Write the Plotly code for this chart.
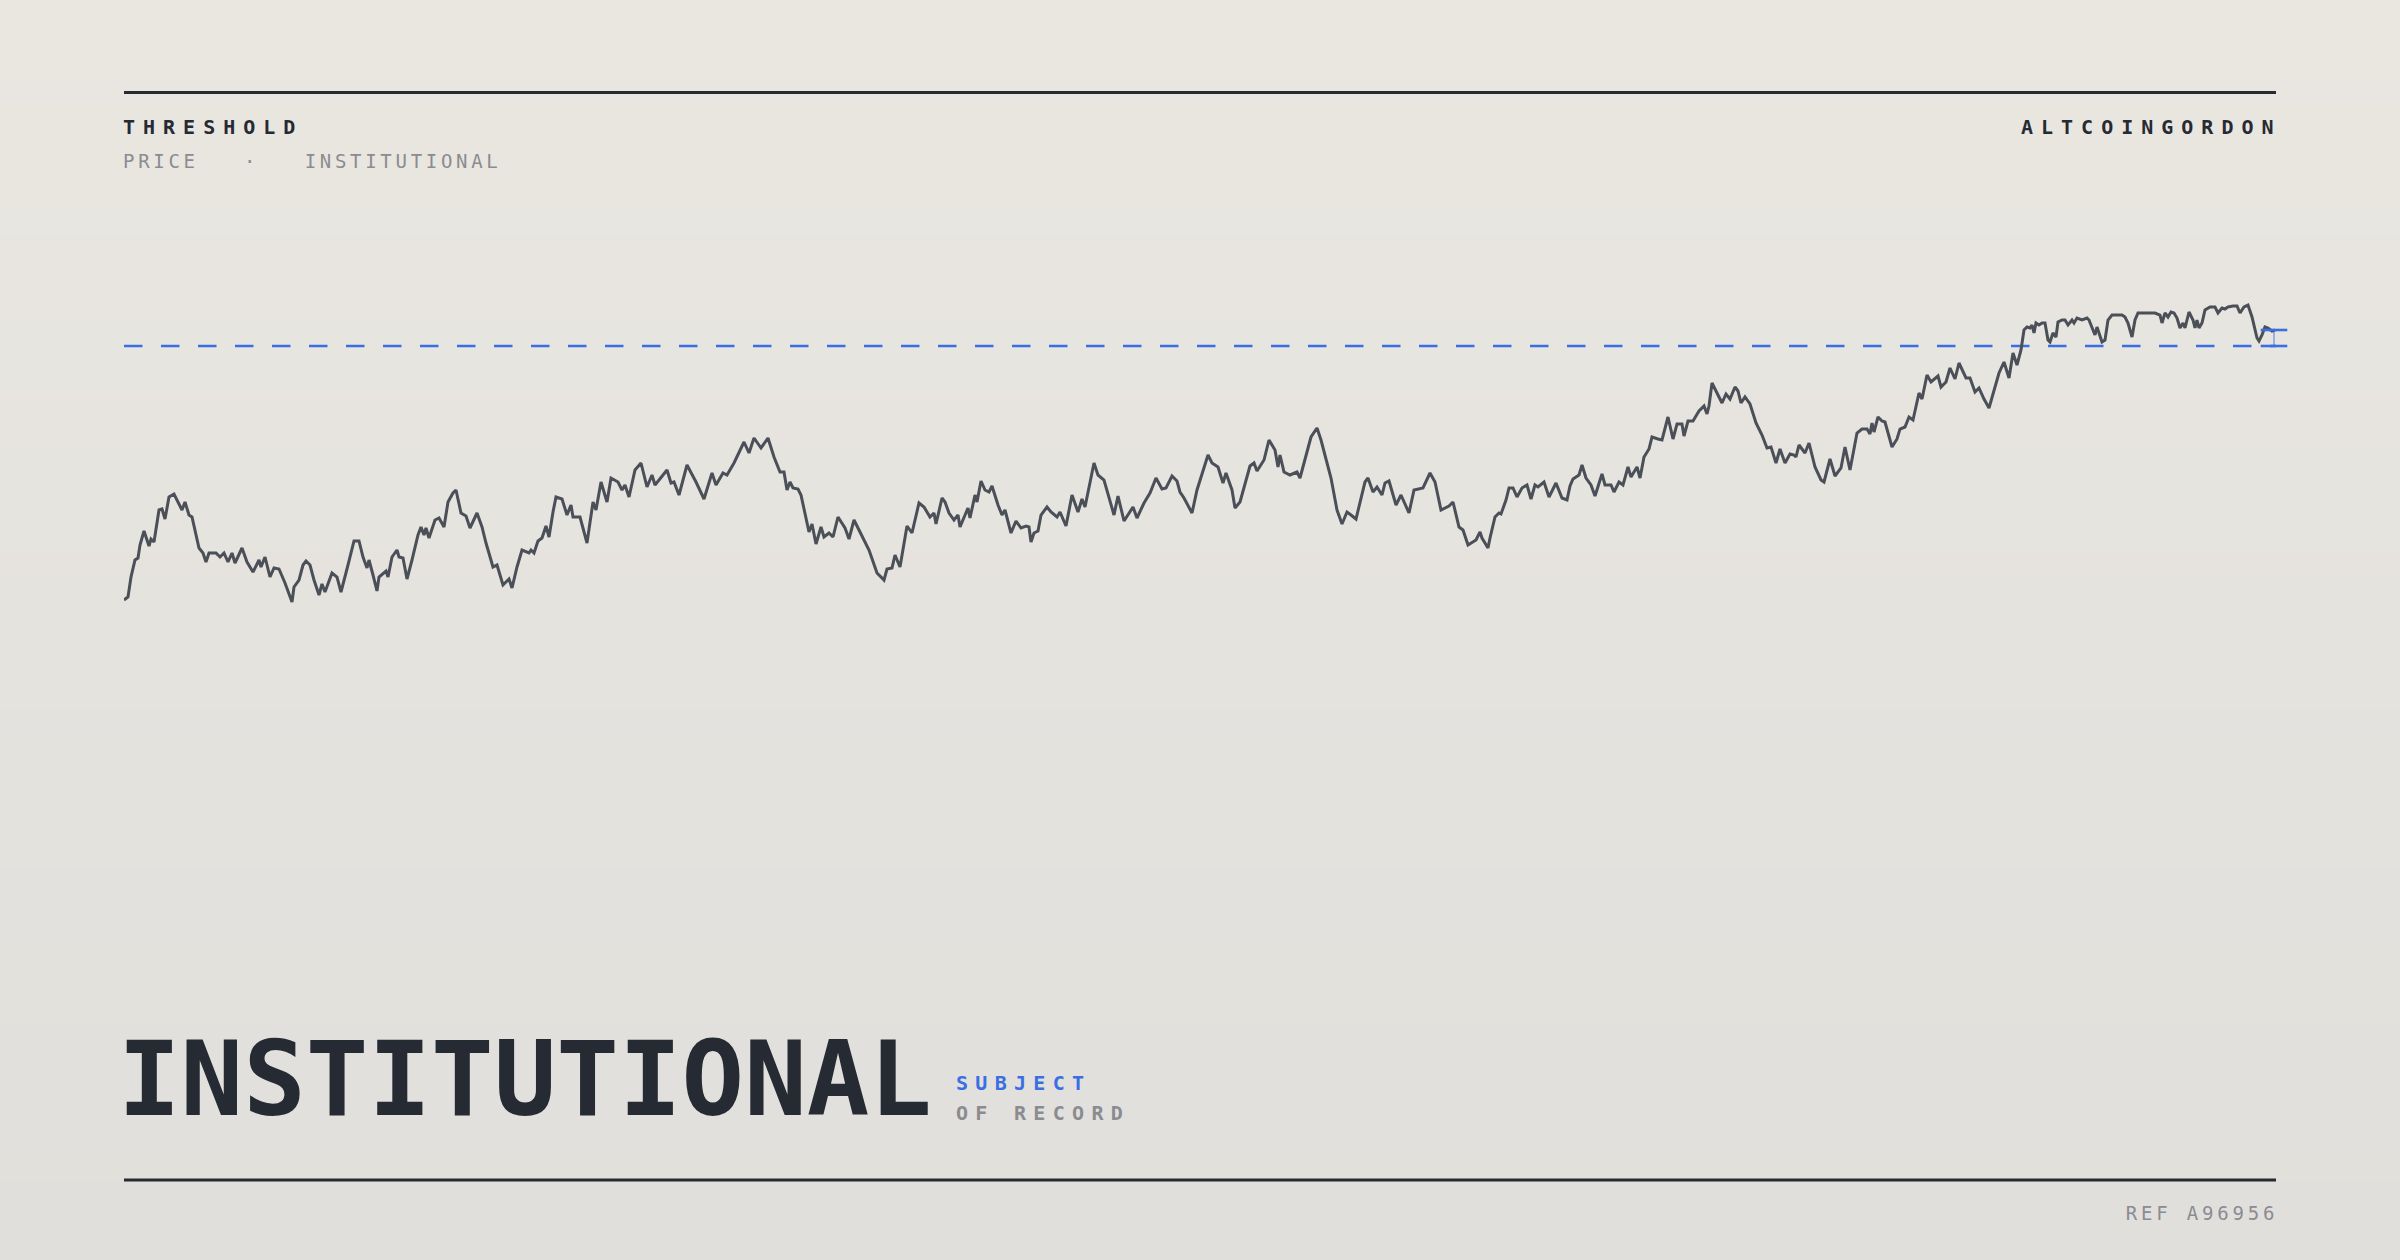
import json
import plotly.graph_objects as go

# ---- data ----
session = [0, 4, 7, 11, 14, 16, 20, 25, 27, 30, 35, 38, 41, 45, 50, 54, 58, 61, 65, 68, 71, 75, 79, 82, 85, 92, 96, 100, 104, 108, 111, 118, 123, 129, 135, 137, 141, 146, 150, 155, 161, 168, 170, 175, 179, 182, 186, 190, 195, 198, 201, 208, 213, 217, 224, 230, 235, 239, 243, 245, 249, 253, 255, 262, 264, 268, 273, 275, 279, 283, 288, 294, 297, 300, 302, 305, 311, 315, 320, 324, 329, 332, 337, 342, 346, 353, 358, 362, 369, 373, 379, 385, 388, 393, 398, 405, 407, 410, 414, 418, 422, 425, 429, 432, 438, 443, 447, 449, 456, 463, 469, 472, 477, 483, 487, 494, 498, 501, 505, 511, 517, 523, 528, 531, 543, 547, 550, 555, 563, 572, 580, 588, 592, 599, 603, 610, 620, 625, 630, 637, 644, 650,
           656, 660, 663, 666, 669, 674, 677, 682, 685, 688, 692, 697, 700, 705, 709, 714, 721, 725, 730, 736, 745, 753, 760, 763, 768, 771, 776, 783, 788, 795, 800, 806, 810, 812, 818, 821, 825, 830, 834, 836, 844, 846, 851, 853, 857, 861, 865, 868, 874, 878, 881, 887, 892, 897, 902, 905, 907, 910, 914, 917, 923, 927, 933, 936, 942, 948, 954, 958, 961, 970, 974, 980, 986, 990, 994, 1000, 1009, 1013, 1020, 1026, 1032, 1038, 1042, 1048, 1053, 1056, 1060, 1068, 1073, 1080, 1084, 1088, 1094, 1099, 1102, 1108, 1111, 1116, 1121, 1126, 1130, 1133, 1140, 1145, 1151, 1154, 1156, 1160, 1166, 1173, 1176, 1182, 1187, 1193, 1197, 1207, 1213, 1218, 1223, 1227, 1232, 1241, 1244, 1249, 1253, 1258, 1261, 1265, 1272, 1277, 1285, 1290, 1299, 1306, 1311, 1317, 1325, 1329, 1335, 1339, 1344, 1352, 1356,
           1358, 1364, 1366, 1371, 1375, 1377, 1382, 1385, 1389, 1393, 1398, 1403, 1407, 1411, 1414, 1420, 1425, 1432, 1438, 1443, 1446, 1449, 1455, 1458, 1462, 1467, 1471, 1478, 1481, 1487, 1490, 1495, 1499, 1504, 1507, 1513, 1516, 1520, 1525, 1528, 1534, 1538, 1544, 1549, 1553, 1558, 1560, 1564, 1569, 1575, 1580, 1583, 1585, 1588, 1593, 1598, 1602, 1606, 1611, 1614, 1617, 1621, 1626, 1632, 1638, 1643, 1647, 1652, 1656, 1661, 1666, 1670, 1672, 1675, 1681, 1685, 1691, 1697, 1700, 1706, 1711, 1717, 1721, 1726, 1733, 1738, 1743, 1746, 1748, 1750, 1754, 1758, 1761, 1768, 1773, 1776, 1781, 1785, 1789, 1795, 1798, 1803, 1807, 1814, 1817, 1822, 1826, 1831, 1835, 1842, 1846, 1851, 1855, 1860, 1865, 1868, 1875, 1880, 1885, 1889, 1893, 1897,
           1900, 1903, 1906, 1908, 1910, 1912, 1915, 1918, 1921, 1924, 1926, 1929, 1932, 1934, 1938, 1941, 1944, 1948, 1950, 1953, 1958, 1963, 1965, 1969, 1971, 1973, 1976, 1978, 1981, 1984, 1988, 1993, 1998, 2001, 2004, 2008, 2011, 2014, 2026, 2031, 2036, 2038, 2041, 2044, 2047, 2050, 2053, 2056, 2059, 2061, 2065, 2069, 2071, 2073, 2075, 2078, 2081, 2086, 2091, 2094, 2098, 2101, 2104, 2109, 2113, 2116, 2120, 2124, 2128, 2133, 2135, 2138, 2141, 2144, 2148, 2151]

price = [100, 103, 123, 140, 142, 155, 169, 154, 161, 158, 190, 191, 181, 203, 206, 198, 190, 198, 185, 183, 170, 152, 147, 138, 147, 147, 143, 147, 138, 147, 137, 152, 138, 128, 140, 133, 143, 123, 132, 131, 117, 98, 113, 120, 135, 139, 135, 120, 105, 116, 108, 127, 123, 108, 135, 159, 159, 143, 132, 140, 125, 109, 123, 129, 123, 143, 150, 143, 142, 121, 140, 165, 173, 165, 172, 162, 180, 182, 173, 198, 207, 210, 187, 184, 172, 187, 173, 157, 133, 135, 115, 121, 112, 133, 150, 147, 150, 147, 159, 162, 174, 163, 188, 203, 201, 185, 195, 183, 183, 157, 198, 190, 218, 198, 222, 218, 210, 215, 203, 230, 237, 213, 225, 215, 230, 217, 218, 205, 235, 218, 201, 227, 215, 227, 225, 237, 258, 247, 262, 252, 262, 243,
         228, 228, 210, 218, 212, 211, 205, 180, 168, 176, 156, 173, 163, 167, 163, 183, 172, 161, 180, 168, 150, 127, 120, 131, 132, 145, 133, 174, 167, 197, 193, 183, 187, 176, 202, 198, 187, 180, 185, 173, 192, 182, 205, 198, 219, 210, 208, 214, 195, 185, 190, 167, 179, 172, 174, 173, 158, 167, 169, 185, 193, 188, 183, 188, 174, 205, 188, 201, 193, 237, 225, 220, 198, 185, 204, 179, 193, 182, 197, 207, 222, 211, 212, 224, 219, 208, 202, 187, 210, 231, 245, 237, 233, 217, 227, 210, 192, 198, 215, 234, 237, 229, 240, 260, 250, 233, 245, 228, 225, 228, 222, 244, 263, 272, 260, 222, 190, 176, 188, 185, 181, 218, 222, 208, 213, 205, 217, 219, 195, 205, 187, 210, 212, 227, 218, 190, 194, 198, 173, 170, 155, 160, 168,
         162, 152, 162, 183, 187, 186, 200, 212, 212, 203, 212, 215, 201, 215, 213, 218, 203, 217, 202, 200, 214, 221, 225, 235, 222, 215, 204, 226, 215, 215, 208, 218, 215, 233, 223, 233, 222, 243, 251, 263, 261, 260, 283, 261, 276, 276, 264, 279, 279, 289, 294, 286, 294, 317, 307, 297, 306, 301, 313, 309, 297, 303, 296, 277, 265, 252, 253, 237, 251, 237, 246, 245, 243, 255, 247, 257, 233, 220, 218, 241, 224, 232, 253, 230, 267, 271, 271, 266, 277, 268, 283, 279, 278, 253, 261, 271, 273, 283, 280, 307, 301, 325, 318, 324, 313, 318, 332, 321, 337, 322, 322, 308, 312, 301, 292, 303, 327, 338, 322, 347, 335, 350,
         370, 373, 372, 375, 367, 377, 375, 377, 377, 360, 358, 367, 363, 378, 380, 380, 375, 380, 377, 382, 380, 382, 380, 370, 365, 373, 365, 358, 360, 380, 385, 385, 385, 383, 377, 363, 380, 387, 387, 387, 385, 377, 387, 383, 388, 387, 382, 372, 377, 372, 388, 380, 372, 380, 372, 377, 390, 393, 393, 387, 392, 391, 393, 394, 394, 387, 393, 395, 383, 362, 359, 365, 373, 372, 369, 370]

THRESHOLD = 354

title_main = "INSTITUTIONAL"
kicker = "THRESHOLD"
subline = "PRICE\u00a0\u00a0\u00a0·\u00a0\u00a0\u00a0INSTITUTIONAL"
brand = "ALTCOINGORDON"
tag_top = "SUBJECT"
tag_bottom = "OF RECORD"
ref_code = "REF A96956"

# ---- styling ----
W, H = 2400, 1260
MONO = "DejaVu Sans Mono"
INK = "#262a33"
GREY = "#8a8c91"
BLUE = "#3a6fe4"
LINE = "#4a4f58"

fig = go.Figure()

fig.add_trace(go.Scatter(
    x=[session[0], session[-1] + 9], y=[THRESHOLD, THRESHOLD], mode="lines",
    line=dict(color=BLUE, width=2.5, dash="18.5px,18.5px"),
    hoverinfo="skip", cliponaxis=False, showlegend=False))

fig.add_trace(go.Scatter(
    x=session, y=price, mode="lines",
    line=dict(color=LINE, width=3.0),
    cliponaxis=False, showlegend=False))

# gap marker between last price and threshold
gx = session[-1] - 1
fig.add_trace(go.Scatter(
    x=[gx, gx], y=[price[-1], THRESHOLD], mode="lines",
    line=dict(color="rgba(58,111,228,0.55)", width=1.6),
    hoverinfo="skip", cliponaxis=False, showlegend=False))
fig.add_trace(go.Scatter(
    x=[gx, gx], y=[price[-1], THRESHOLD], mode="markers",
    marker=dict(symbol="line-ew", size=19, line=dict(color=BLUE, width=2.6)),
    hoverinfo="skip", cliponaxis=False, showlegend=False))

# background gradient bands
shapes = []
top_c = (234, 231, 225)
bot_c = (224, 223, 219)
N = 48
for i in range(N):
    f = i / (N - 1)
    c = tuple(round(top_c[k] + (bot_c[k] - top_c[k]) * f) for k in range(3))
    shapes.append(dict(type="rect", xref="paper", yref="paper",
                       x0=-0.1, x1=1.1, y0=1 - (i + 1) / N - 0.002, y1=1 - i / N,
                       fillcolor="rgb(%d,%d,%d)" % c, line=dict(width=0), layer="below"))


def py(px):
    return 1 - px / H


shapes.append(dict(type="line", xref="paper", yref="paper", x0=0, x1=1,
                   y0=py(92.5), y1=py(92.5), line=dict(color=INK, width=3)))
shapes.append(dict(type="line", xref="paper", yref="paper", x0=0, x1=1,
                   y0=py(1180), y1=py(1180), line=dict(color=INK, width=3)))

ann = []


def add(text, x, ypx, size, color, weight="normal", xanchor="left", xshift=0):
    ann.append(dict(text=text, x=x, y=py(ypx), xref="paper", yref="paper",
                    xanchor=xanchor, yanchor="middle", showarrow=False, xshift=xshift,
                    font=dict(family=MONO, size=size, color=color, weight=weight)))


tag_x = (957.6 - 124) / 2152
add(kicker, 0, 127, 20, INK, "bold", xshift=-3)                 # 0
add(subline, 0, 161, 19, GREY, xshift=-3)                         # 1
add(brand, 1, 127, 20, INK, "bold", "right")                      # 2
add(title_main, 0, 1079, 104, INK, "bold", xshift=-8)             # 3
add(tag_top, tag_x, 1083, 20, BLUE, "bold", xshift=-4)            # 4
add(tag_bottom, tag_x, 1113, 20, GREY, "bold", xshift=-4)         # 5
add(ref_code, 1, 1212.5, 19, GREY, "normal", "right")             # 6

fig.update_layout(
    width=W, height=H,
    margin=dict(l=124, r=124, t=0, b=0),
    paper_bgcolor="rgb(229,227,222)",
    plot_bgcolor="rgba(0,0,0,0)",
    xaxis=dict(range=[0, 2152], visible=False, fixedrange=True),
    yaxis=dict(range=[-560, 700], visible=False, fixedrange=True),
    shapes=shapes, annotations=ann, showlegend=False,
    hovermode=False,
)

LS = {"0": [8, "l"], "1": [3.7, "l"], "2": [8, "r"], "4": [7.3, "l"], "5": [7.3, "l"], "6": [3.8, "r"]}
post = """
document.body.style.margin='0';
var gd=document.getElementById('{plot_id}');
var LS=%s;
gd.querySelectorAll('g.annotation').forEach(function(g){
  var s=LS[g.getAttribute('data-index')]; if(!s) return;
  var t=g.querySelector('text.annotation-text'); if(!t) return;
  var b0=t.getBBox();
  t.style.letterSpacing=s[0]+'px';
  var b1=t.getBBox();
  var dx = s[1]==='r' ? (b0.x+b0.width)-(b1.x+b1.width-s[0]) : (b0.x-b1.x);
  t.setAttribute('transform','translate('+dx+',0)');
});
""" % json.dumps(LS)

fig.write_html("out.html", post_script=post, config={"displayModeBar": False, "staticPlot": True})
